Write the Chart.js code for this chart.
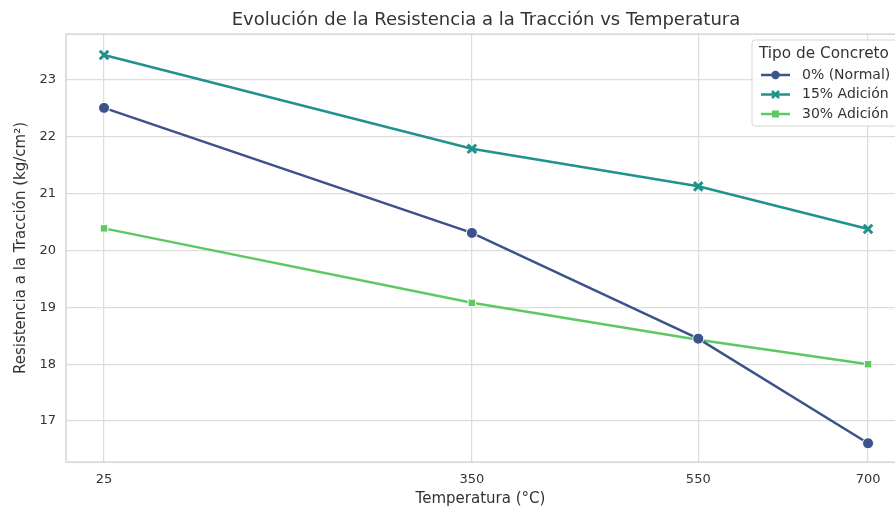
<!DOCTYPE html>
<html>
<head>
<meta charset="utf-8">
<script src="https://cdn.jsdelivr.net/npm/chart.js@4"></script>
<style>
  html, body { margin: 0; padding: 0; background: #fff; overflow: hidden; }
  #wrap { width: 895px; height: 508px; }
</style>
</head>
<body>
<div id="wrap"><canvas id="grafico" width="895" height="508"></canvas></div>
<script>
// Datos
const temperaturas = [25, 350, 550, 700];
const normal = [22.51, 20.31, 18.45, 16.61];
const adicion15 = [23.44, 21.79, 21.13, 20.38];
const adicion30 = [20.39, 19.08, 18.43, 18.0];
const ticksY = [17, 18, 19, 20, 21, 22, 23];

const fuente = "'DejaVu Sans', sans-serif";
const texto = '#333333';

function puntos(valores) {
  return temperaturas.map((t, i) => ({ x: t, y: valores[i] }));
}

// Marco, título y leyenda al estilo seaborn (la figura original está recortada a la derecha)
const decoracion = {
  id: 'decoracion',
  afterDraw(chart) {
    const { ctx, chartArea: a } = chart;
    ctx.save();
    ctx.strokeStyle = '#cccccc';
    ctx.lineWidth = 1.25;
    ctx.beginPath();
    ctx.moveTo(a.right + 2, a.top);
    ctx.lineTo(a.left, a.top);
    ctx.lineTo(a.left, a.bottom);
    ctx.lineTo(a.right + 2, a.bottom);
    ctx.stroke();

    ctx.fillStyle = texto;
    ctx.font = '18px ' + fuente;
    ctx.textAlign = 'center';
    ctx.textBaseline = 'middle';
    ctx.fillText('Evolución de la Resistencia a la Tracción vs Temperatura', 486, 20);

    // leyenda
    const lx = 752, ly = 40;
    ctx.fillStyle = 'rgba(255,255,255,0.85)';
    ctx.strokeStyle = '#d6d6d6';
    ctx.lineWidth = 1;
    ctx.beginPath();
    ctx.roundRect(lx, ly, 170, 86, 3);
    ctx.fill();
    ctx.stroke();
    ctx.fillStyle = texto;
    ctx.textAlign = 'left';
    ctx.font = '15.3px ' + fuente;
    ctx.fillText('Tipo de Concreto', 759, 54);
    ctx.font = '14px ' + fuente;
    chart.data.datasets.forEach((ds, i) => {
      const y = 75 + i * 19.5;
      ctx.strokeStyle = ds.borderColor;
      ctx.lineWidth = 2.5;
      ctx.beginPath();
      ctx.moveTo(761, y);
      ctx.lineTo(790, y);
      ctx.stroke();
      ctx.fillStyle = ds.borderColor;
      if (ds.pointStyle === 'circle') {
        ctx.beginPath(); ctx.arc(775.5, y, 4.2, 0, Math.PI * 2); ctx.fill();
      } else if (ds.pointStyle === 'rect') {
        ctx.fillRect(772, y - 3.5, 7, 7);
      } else {
        ctx.lineWidth = 2.5;
        ctx.beginPath();
        ctx.moveTo(772, y - 3.5); ctx.lineTo(779, y + 3.5);
        ctx.moveTo(779, y - 3.5); ctx.lineTo(772, y + 3.5);
        ctx.stroke();
      }
      ctx.fillStyle = texto;
      ctx.fillText(ds.label, 802, y);
    });
    ctx.restore();
  }
};

new Chart(document.getElementById('grafico'), {
  type: 'line',
  data: {
    datasets: [
      {
        label: '0% (Normal)',
        data: puntos(normal),
        borderColor: '#3b528b',
        backgroundColor: '#3b528b',
        pointStyle: 'circle',
        pointRadius: 5.5,
        pointBorderColor: '#ffffff',
        pointBorderWidth: 1,
        borderWidth: 2.5
      },
      {
        label: '15% Adición',
        data: puntos(adicion15),
        borderColor: '#21918c',
        backgroundColor: '#21918c',
        pointStyle: 'crossRot',
        pointRadius: 6,
        pointBorderColor: '#21918c',
        pointBorderWidth: 3,
        borderWidth: 2.5
      },
      {
        label: '30% Adición',
        data: puntos(adicion30),
        borderColor: '#5ec962',
        backgroundColor: '#5ec962',
        pointStyle: 'rect',
        pointRadius: 5.3,
        pointBorderColor: '#ffffff',
        pointBorderWidth: 1,
        borderWidth: 2.5
      }
    ]
  },
  options: {
    responsive: false,
    animation: false,
    layout: { autoPadding: false, padding: { top: 34, right: 0, left: 12, bottom: 0 } },
    plugins: {
      legend: { display: false },
      title: { display: false },
      tooltip: { enabled: false }
    },
    scales: {
      x: {
        type: 'linear',
        min: -8.6,
        max: 723.8,
        afterBuildTicks(axis) { axis.ticks = temperaturas.map(v => ({ value: v })); },
        afterFit(axis) { axis.height = 46; },
        border: { display: false },
        grid: { color: '#dddddd', lineWidth: 1.25, drawTicks: false },
        ticks: { color: texto, font: { family: fuente, size: 13 }, padding: 10, maxRotation: 0 },
        title: { display: true, text: 'Temperatura (°C)', color: texto, font: { family: fuente, size: 15 }, padding: { top: 1, bottom: 0 } }
      },
      y: {
        min: 16.28,
        max: 23.81,
        afterBuildTicks(axis) { axis.ticks = ticksY.map(v => ({ value: v })); },
        afterFit(axis) { axis.width = 54; },
        border: { display: false },
        grid: { color: '#dddddd', lineWidth: 1.25, drawTicks: false },
        ticks: { color: texto, font: { family: fuente, size: 13 }, padding: 10 },
        title: { display: true, text: 'Resistencia a la Tracción (kg/cm²)', color: texto, font: { family: fuente, size: 15 }, padding: { top: 0, bottom: 4 } }
      }
    }
  },
  plugins: [decoracion]
});
</script>
</body>
</html>
